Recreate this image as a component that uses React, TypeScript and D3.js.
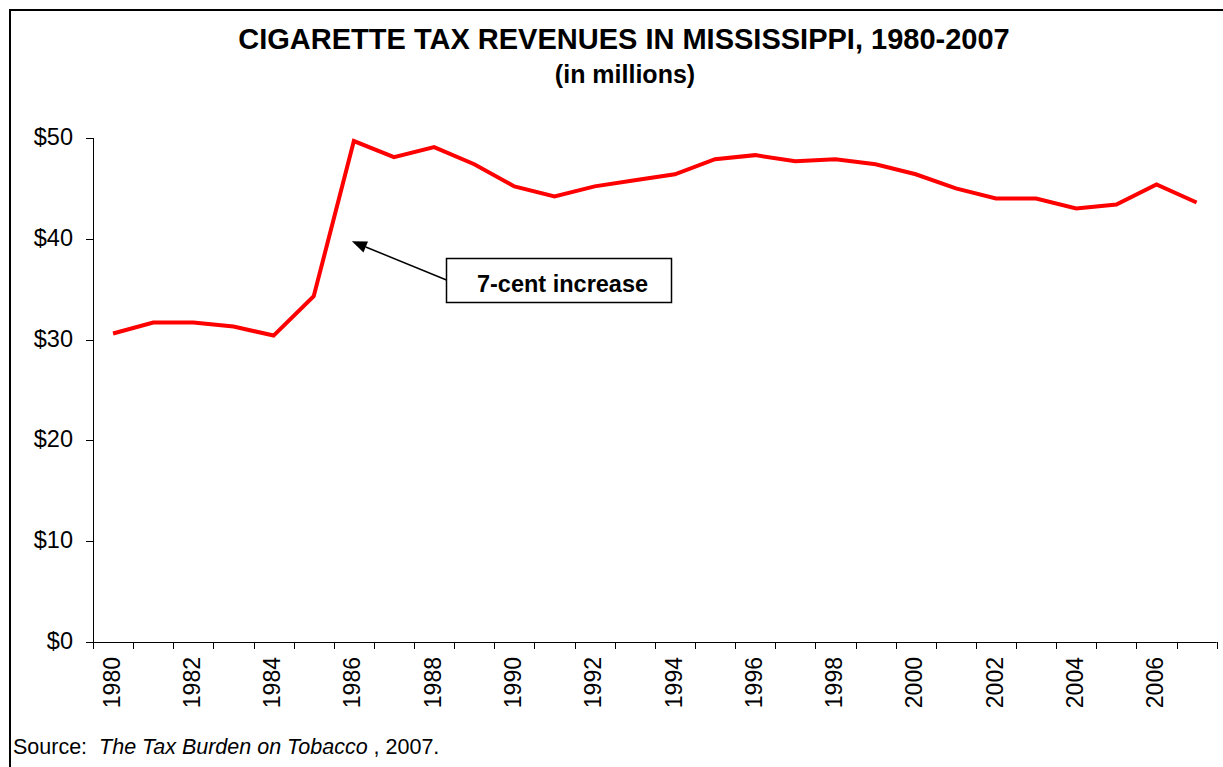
import React from "react";
import * as d3 from "d3";

const years: number[] = [
  1980, 1981, 1982, 1983, 1984, 1985, 1986, 1987, 1988, 1989, 1990, 1991, 1992, 1993,
  1994, 1995, 1996, 1997, 1998, 1999, 2000, 2001, 2002, 2003, 2004, 2005, 2006, 2007,
];
const revenue: number[] = [
  30.6, 31.7, 31.7, 31.3, 30.4, 34.3, 49.7, 48.1, 49.1, 47.4, 45.2, 44.2, 45.2, 45.8,
  46.4, 47.9, 48.3, 47.7, 47.9, 47.4, 46.4, 45.0, 44.0, 44.0, 43.0, 43.4, 45.4, 43.6,
];
const yTicks: number[] = [0, 10, 20, 30, 40, 50];
const labeledYears: number[] = years.filter((_, i) => i % 2 === 0);

const title = "CIGARETTE TAX REVENUES IN MISSISSIPPI, 1980-2007";
const subtitle = "(in millions)";
const annotation = "7-cent increase";
const annotationYear = 1986;
const annotationValue = 40;

const W = 1223;
const H = 767;
const plotLeft = 93;
const plotRight = 1216.7;
const plotTop = 138;
const plotBottom = 642;

export default function App() {
  const x = d3.scaleBand<number>().domain(years).range([plotLeft, plotRight]).padding(0);
  const y = d3.scaleLinear().domain([0, 50]).range([plotBottom, plotTop]);
  const cx = (yr: number) => (x(yr) as number) + x.bandwidth() / 2;

  const line = d3
    .line<number>()
    .x((_, i) => cx(years[i]))
    .y((d) => y(d))(revenue) as string;

  const bandEdges = years.map((yr) => x(yr) as number).concat([plotRight]);

  // annotation arrow
  const tipX = cx(annotationYear) - 2;
  const tipY = y(annotationValue) + 2.5;
  const boxX = 446.5;
  const boxY = 258.5;
  const boxW = 225;
  const boxH = 44;
  const tailX = boxX;
  const tailY = 280;
  const ang = Math.atan2(tailY - tipY, tailX - tipX);
  const aLen = 15;
  const aW = 6;
  const bx = tipX + aLen * Math.cos(ang);
  const by = tipY + aLen * Math.sin(ang);
  const px = -Math.sin(ang) * aW;
  const py = Math.cos(ang) * aW;

  const font = "Liberation Sans, Arial, sans-serif";

  return (
    <svg
      width={W}
      height={H}
      style={{ position: "absolute", left: 0, top: 0, background: "#fff" }}
      fontFamily={font}
    >
      <rect x={0} y={0} width={W} height={H} fill="#fff" />
      <rect x={10} y={10} width={1400} height={1000} fill="none" stroke="#000" strokeWidth={2} />

      <text x={624} y={49} textAnchor="middle" fontSize={29} fontWeight="bold" fill="#000">
        {title}
      </text>
      <text x={625} y={83} textAnchor="middle" fontSize={25} fontWeight="bold" fill="#000">
        {subtitle}
      </text>

      {/* Y axis */}
      <line x1={plotLeft + 0.5} x2={plotLeft + 0.5} y1={plotTop} y2={plotBottom} stroke="#000" strokeWidth={1} />
      {yTicks.map((t) => (
        <g key={t}>
          <line x1={plotLeft - 7} x2={plotLeft + 0.5} y1={Math.round(y(t)) + 0.5} y2={Math.round(y(t)) + 0.5} stroke="#000" strokeWidth={1} />
          <text x={73} y={y(t)} dy="0.3em" textAnchor="end" fontSize={23.5} fill="#000">
            {"$" + t}
          </text>
        </g>
      ))}

      {/* X axis */}
      <line x1={plotLeft} x2={plotRight} y1={plotBottom + 0.5} y2={plotBottom + 0.5} stroke="#000" strokeWidth={1} />
      {bandEdges.map((e, i) => (
        <line key={i} x1={Math.round(e) + 0.5} x2={Math.round(e) + 0.5} y1={plotBottom} y2={plotBottom + 7} stroke="#000" strokeWidth={1} />
      ))}
      {labeledYears.map((yr) => (
        <text
          key={yr}
          transform={`translate(${cx(yr) - 1},${657}) rotate(-90)`}
          dy="0.33em"
          textAnchor="end"
          fontSize={23}
          fill="#000"
        >
          {yr}
        </text>
      ))}

      {/* Series line */}
      <path d={line} fill="none" stroke="#FF0000" strokeWidth={4} strokeLinejoin="miter" />

      {/* Annotation */}
      <line x1={tailX} y1={tailY} x2={bx} y2={by} stroke="#000" strokeWidth={1.5} />
      <polygon points={`${tipX},${tipY} ${bx + px},${by + py} ${bx - px},${by - py}`} fill="#000" />
      <rect x={boxX} y={boxY} width={boxW} height={boxH} fill="#fff" stroke="#000" strokeWidth={1.5} />
      <text x={562.5} y={291.5} textAnchor="middle" fontSize={23.5} fontWeight="bold" fill="#000">
        {annotation}
      </text>

      {/* Source */}
      <text x={13} y={754} fontSize={21.5} fill="#000" style={{ whiteSpace: "pre" }}>
        <tspan>{"Source:  "}</tspan>
        <tspan fontStyle="italic">The Tax Burden on Tobacco</tspan>
        <tspan>{" , 2007."}</tspan>
      </text>
    </svg>
  );
}
